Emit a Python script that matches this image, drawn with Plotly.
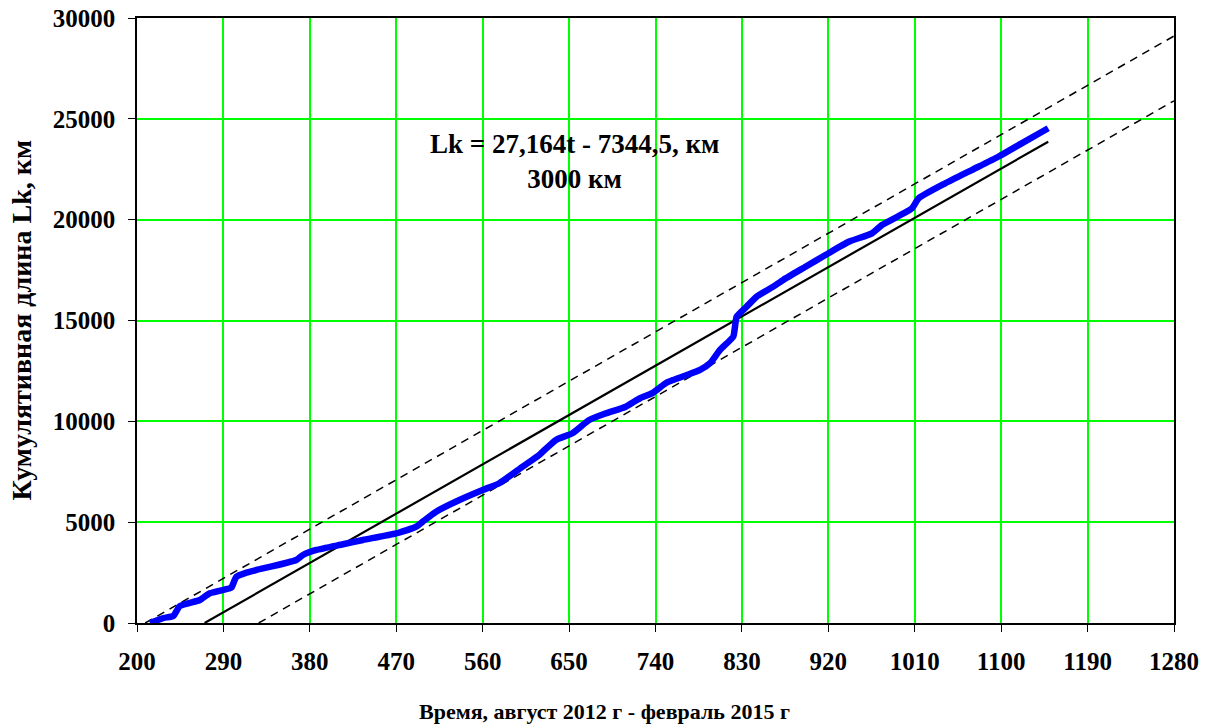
import plotly.graph_objects as go

# Cumulative length data (t, Lk)
t_vals = [213.5, 227.7, 237.7, 244.7, 265.5, 275.9, 296.7, 298.4, 303.6, 314, 324.4, 366,
          372.9, 386.8, 414.5, 435.2, 470, 490.8, 497.6, 511.5, 535.8, 560, 577.3, 601.6,
          618.9, 636.3, 653.5, 670.9, 688.3, 709, 723.9, 736.7, 750.6, 758.6, 786.4, 796.8,
          807.2, 821, 822.8, 824.5, 834.9, 845.4, 862.6, 873, 896.2, 917, 941.2, 965.4,
          975.8, 1007, 1014, 1041.7, 1069.3, 1097, 1121.3, 1149]
lk_vals = [0, 248, 347, 843, 1140, 1473, 1720, 1760, 2296, 2495, 2630, 3125,
           3373, 3621, 3903, 4117, 4448, 4776, 5024, 5520, 6100, 6596, 6929, 7752,
           8333, 9077, 9409, 10069, 10397, 10725, 11145, 11400, 11890, 12053, 12549, 12881,
           13541, 14200, 14697, 15192, 15688, 16184, 16680, 17013, 17666, 18246, 18905, 19322,
           19733, 20561, 21056, 21800, 22460, 23120, 23785, 24535]

# Regression line Lk = 27.164 t - 7344.5
slope = 27.164
intercept = -7344.5
fit_t = [270.4, 1149]
upper_offset = 1680
lower_offset = -1530
upper_t = [(0 - intercept - upper_offset) / slope, 1280]
lower_t = [(0 - intercept - lower_offset) / slope, 1280]

x_ticks = [200, 290, 380, 470, 560, 650, 740, 830, 920, 1010, 1100, 1190, 1280]
y_ticks = [0, 5000, 10000, 15000, 20000, 25000, 30000]

FONT = "Liberation Serif, Times New Roman, serif"

fig = go.Figure()
fig.add_trace(go.Scatter(x=upper_t, y=[slope * t + intercept + upper_offset for t in upper_t],
                         mode="lines", line=dict(color="black", width=1.5, dash="8px,6px"),
                         showlegend=False, hoverinfo="skip"))
fig.add_trace(go.Scatter(x=lower_t, y=[slope * t + intercept + lower_offset for t in lower_t],
                         mode="lines", line=dict(color="black", width=1.5, dash="8px,6px"),
                         showlegend=False, hoverinfo="skip"))
fig.add_trace(go.Scatter(x=fit_t, y=[slope * t + intercept for t in fit_t],
                         mode="lines", line=dict(color="black", width=2.2),
                         showlegend=False))
fig.add_trace(go.Scatter(x=t_vals, y=lk_vals, mode="lines",
                         line=dict(color="#0000FF", width=6.5, shape="spline", smoothing=0.5),
                         showlegend=False))

fig.update_xaxes(range=[200, 1280], tickvals=x_ticks, ticktext=[f"<b>{v}</b>" for v in x_ticks],
                 showgrid=True, gridcolor="#00FF00", gridwidth=1.5, automargin=False,
                 showline=True, linecolor="black", linewidth=1.5, mirror=True,
                 ticks="outside", ticklen=7, tickcolor="black", tickwidth=1,
                 ticklabelstandoff=8,
                 tickfont=dict(family=FONT, size=25, color="black"), zeroline=False)
fig.update_yaxes(range=[0, 30000], tickvals=y_ticks, ticktext=[f"<b>{v}</b>" for v in y_ticks],
                 showgrid=True, gridcolor="#00FF00", gridwidth=1.5, automargin=False,
                 showline=True, linecolor="black", linewidth=1.5, mirror=True,
                 ticks="outside", ticklen=7, tickcolor="black", tickwidth=1,
                 ticklabelstandoff=8,
                 tickfont=dict(family=FONT, size=25, color="black"), zeroline=False)

fig.add_annotation(x=656, y=22900, xref="x", yref="y", showarrow=False,
                   text="<b>Lk = 27,164t - 7344,5, км<br>3000 км</b>",
                   font=dict(family=FONT, size=27, color="black"), align="center")
fig.add_annotation(x=0.4513, y=-0.147, xref="paper", yref="paper", showarrow=False,
                   xanchor="center", yanchor="middle",
                   text="<b>Время, август 2012 г - февраль 2015 г</b>",
                   font=dict(family=FONT, size=22, color="black"))
fig.add_annotation(x=-0.111, y=0.5, xref="paper", yref="paper", showarrow=False, textangle=-90,
                   xanchor="center", yanchor="middle",
                   text="<b>Кумулятивная длина Lk, км</b>",
                   font=dict(family=FONT, size=28, color="black"))

fig.update_layout(width=1210, height=724, margin=dict(l=137, r=36, t=18, b=101),
                  paper_bgcolor="white", plot_bgcolor="white",
                  font=dict(family=FONT, color="black"))
fig.write_html("out.html")
